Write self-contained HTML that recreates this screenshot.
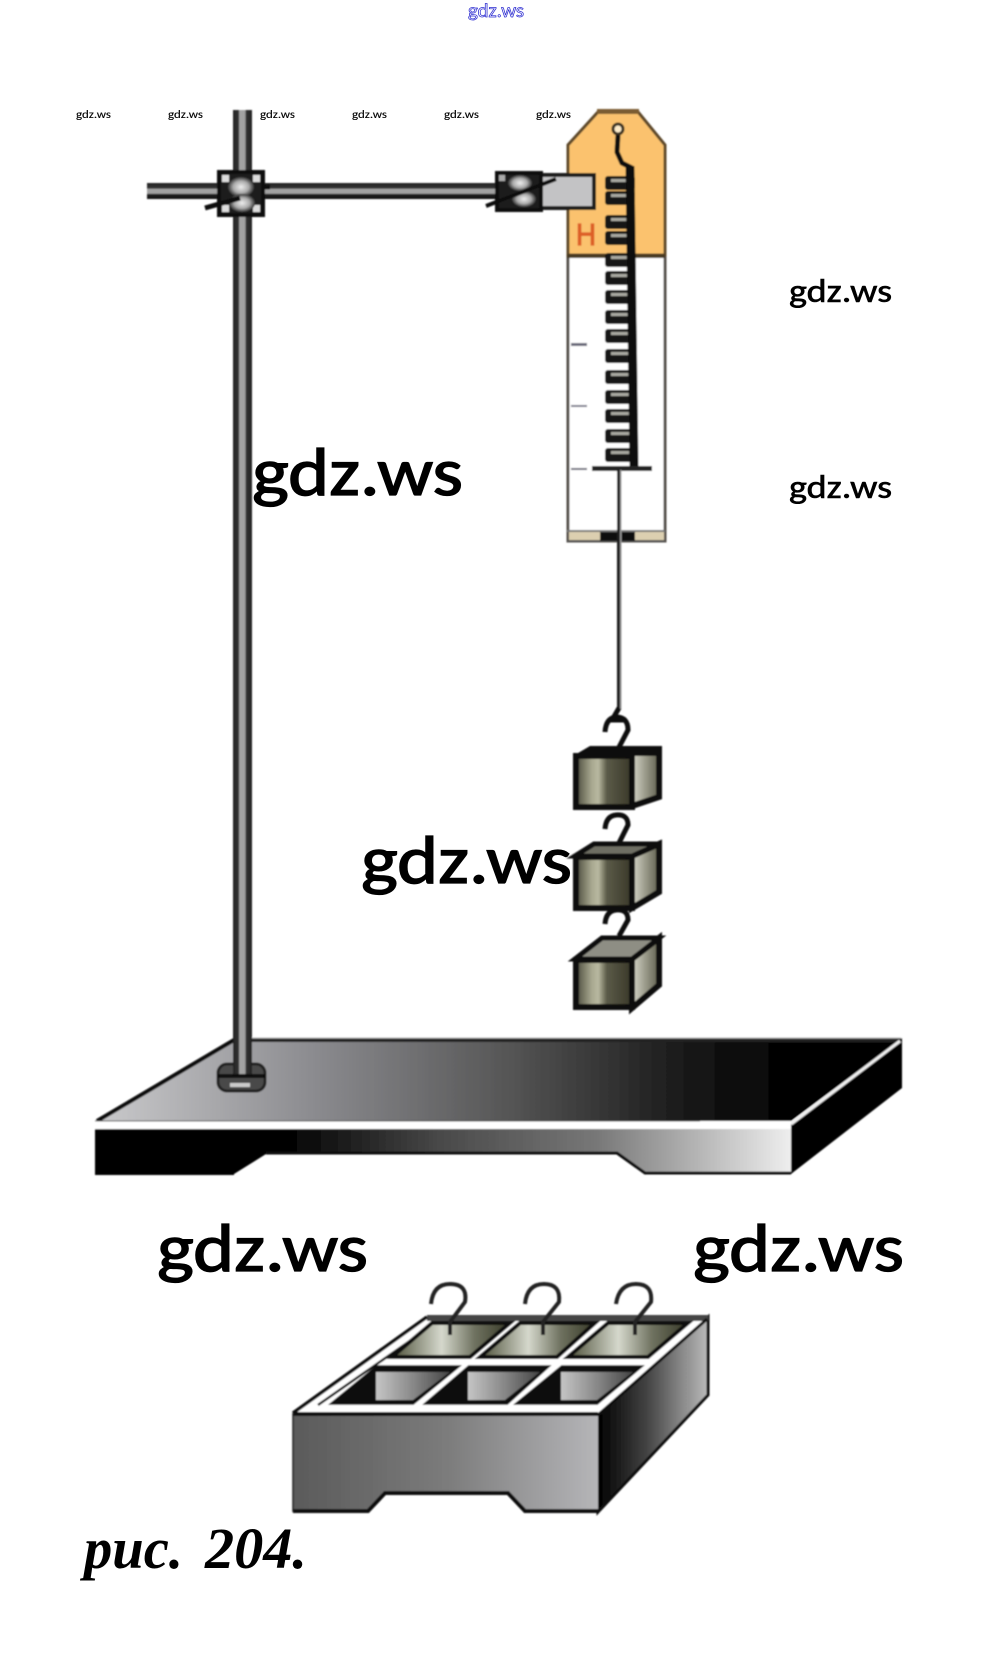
<!DOCTYPE html>
<html><head><meta charset="utf-8"><style>html,body{margin:0;padding:0;background:#fff}svg{display:block}</style></head>
<body>
<svg xmlns="http://www.w3.org/2000/svg" width="992" height="1679" viewBox="0 0 992 1679">
<defs>
<filter id="soft" filterUnits="userSpaceOnUse" x="0" y="0" width="992" height="1679"><feGaussianBlur stdDeviation="0.7"/></filter>
<linearGradient id="rodV" x1="0" x2="1" y1="0" y2="0"><stop offset="0" stop-color="#222"/><stop offset=".3" stop-color="#333"/><stop offset=".34" stop-color="#a5a5a5"/><stop offset=".64" stop-color="#a0a0a0"/><stop offset=".68" stop-color="#333"/><stop offset="1" stop-color="#222"/></linearGradient>
<linearGradient id="rodH" x1="0" x2="0" y1="0" y2="1"><stop offset="0" stop-color="#222"/><stop offset=".33" stop-color="#333"/><stop offset=".38" stop-color="#a5a5a5"/><stop offset=".66" stop-color="#a0a0a0"/><stop offset=".7" stop-color="#222"/><stop offset="1" stop-color="#111"/></linearGradient>
<linearGradient id="plateTop" gradientUnits="userSpaceOnUse" x1="110" x2="800" y1="0" y2="0"><stop offset="0" stop-color="#c6c6c8"/><stop offset=".3" stop-color="#8a8a8e"/><stop offset=".58" stop-color="#555"/><stop offset=".85" stop-color="#151515"/><stop offset="1" stop-color="#000"/></linearGradient>
<linearGradient id="plateFront" gradientUnits="userSpaceOnUse" x1="95" x2="791" y1="0" y2="0"><stop offset="0" stop-color="#000"/><stop offset=".27" stop-color="#000"/><stop offset=".5" stop-color="#4a4a4a"/><stop offset=".72" stop-color="#777"/><stop offset="1" stop-color="#eee"/></linearGradient>
<linearGradient id="trayFront" gradientUnits="userSpaceOnUse" x1="293" x2="598" y1="0" y2="0"><stop offset="0" stop-color="#5a5a5a"/><stop offset=".5" stop-color="#7b7b7b"/><stop offset="1" stop-color="#b5b5b8"/></linearGradient>
<linearGradient id="traySide" gradientUnits="userSpaceOnUse" x1="598" x2="708" y1="0" y2="0"><stop offset="0" stop-color="#000"/><stop offset=".45" stop-color="#444"/><stop offset="1" stop-color="#bbb"/></linearGradient>
<linearGradient id="metal" x1="0" x2="1" y1="0" y2="0"><stop offset="0" stop-color="#4a4a3c"/><stop offset=".28" stop-color="#a8a890"/><stop offset=".4" stop-color="#b8b8a0"/><stop offset=".55" stop-color="#5a5a48"/><stop offset="1" stop-color="#3a3828"/></linearGradient>
<linearGradient id="metal2" x1="0" x2="1" y1="0" y2="0"><stop offset="0" stop-color="#d8d8cc"/><stop offset=".45" stop-color="#a0a090"/><stop offset="1" stop-color="#5e5e4e"/></linearGradient>
<linearGradient id="metalB" x1="0" x2="1" y1="0" y2="0"><stop offset="0" stop-color="#4c4f38"/><stop offset=".42" stop-color="#d5d8cc"/><stop offset=".7" stop-color="#6f7260"/><stop offset="1" stop-color="#363826"/></linearGradient>
<linearGradient id="trayMid" x1="0" x2="1" y1="0" y2="0"><stop offset="0" stop-color="#c5c5c5"/><stop offset=".5" stop-color="#888"/><stop offset="1" stop-color="#444"/></linearGradient>
<radialGradient id="knob"><stop offset="0" stop-color="#eee"/><stop offset=".6" stop-color="#aaa"/><stop offset="1" stop-color="#333"/></radialGradient>
<g id="coil">
<rect x="-15" y="-7" width="30" height="14" rx="3" fill="#161616"/>
<rect x="-9" y="-4" width="18" height="3" fill="#a8a8a0"/>
</g>
</defs>

<g filter="url(#soft)">
<!-- spring scale -->
<path d="M598 112H638L665 145V541H568V145Z" fill="#fff" stroke="#55504a" stroke-width="3"/>
<path d="M598 112H638L665 145V255H568V145Z" fill="#fbc26e" stroke="#5f4a2c" stroke-width="3"/>
<rect x="597" y="109" width="42" height="5" fill="#7a5c30"/>
<rect x="567" y="254" width="98" height="4" fill="#4a3a20"/>
<rect x="569" y="532" width="95" height="9" fill="#dccfb0"/>
<rect x="567" y="530" width="98" height="2" fill="#777"/>
<rect x="567" y="540" width="98" height="2" fill="#555"/>
<rect x="600" y="532" width="35" height="9" fill="#111"/>
<rect x="571" y="343" width="16" height="3" fill="#667"/>
<rect x="571" y="405" width="16" height="2" fill="#778"/>
<rect x="571" y="468" width="16" height="2" fill="#667"/>
<text x="576" y="245" font-family="Liberation Sans, sans-serif" font-size="31" fill="#dd5f26" stroke="#dd5f26" stroke-width="1.2" textLength="20" lengthAdjust="spacingAndGlyphs">Н</text>

<!-- spring -->
<circle cx="618" cy="129" r="5" fill="#fdeccb" stroke="#3a3020" stroke-width="3"/>
<path d="M618 135L617 152L622 163L632 168" fill="none" stroke="#111" stroke-width="5"/>
<use href="#coil" x="620" y="183"/><use href="#coil" x="620" y="198"/><use href="#coil" x="620" y="222"/><use href="#coil" x="620" y="238"/>
<use href="#coil" x="620" y="260"/><use href="#coil" x="620" y="278"/><use href="#coil" x="620" y="297"/><use href="#coil" x="620" y="317"/>
<use href="#coil" x="620" y="336"/><use href="#coil" x="620" y="356"/><use href="#coil" x="620" y="377"/><use href="#coil" x="620" y="397"/>
<use href="#coil" x="620" y="416"/><use href="#coil" x="620" y="436"/><use href="#coil" x="620" y="455"/>
<path d="M630 166L634 466" stroke="#111" stroke-width="9" fill="none"/>
<rect x="592" y="466" width="60" height="5" fill="#222"/>
<rect x="617" y="470" width="3" height="240" fill="#1a1a1a"/>
<rect x="620" y="470" width="1.5" height="240" fill="#999"/>

<!-- stand rods -->
<rect x="233" y="110" width="19" height="920" fill="url(#rodV)"/>
<rect x="147" y="183" width="352" height="16" fill="url(#rodH)"/>

<!-- clamp 1 -->
<rect x="219" y="172" width="44" height="43" fill="#1a1a1a" stroke="#111" stroke-width="4"/>
<rect x="222" y="175" width="7" height="7" fill="#ddd"/><rect x="253" y="175" width="7" height="7" fill="#ddd"/>
<rect x="222" y="205" width="7" height="7" fill="#ddd"/><rect x="253" y="205" width="7" height="7" fill="#ddd"/>
<ellipse cx="241" cy="187" rx="13" ry="10" fill="url(#knob)"/>
<ellipse cx="242" cy="203" rx="13" ry="9" fill="url(#knob)"/>
<path d="M205 208L240 198" stroke="#111" stroke-width="5"/>
<path d="M263 187H270" stroke="#111" stroke-width="5"/>
<!-- clamp 2 -->
<rect x="538" y="175" width="56" height="33" fill="#c3c3c5" stroke="#1a1a1a" stroke-width="4"/>
<rect x="497" y="173" width="44" height="37" fill="#1a1a1a" stroke="#111" stroke-width="4"/>
<ellipse cx="520" cy="183" rx="12" ry="8" fill="url(#knob)"/>
<ellipse cx="524" cy="199" rx="12" ry="8" fill="url(#knob)"/>
<rect x="499" y="175" width="6" height="6" fill="#aaa"/>
<path d="M486 206L556 179" stroke="#111" stroke-width="4"/>

<!-- hooks and weights -->
<g fill="none" stroke="#111" stroke-width="5">
<path d="M619 708L612 720H626"/>
<path d="M617 751L628 730Q628 717 616 717Q606 718 605 732"/>
<path d="M619 843L628 825Q628 814 616 815Q606 816 605 829"/>
<path d="M619 936L628 920Q628 909 616 910Q606 911 605 924"/>
</g>

<path d="M632 751H659V797L632 806Z" fill="url(#metal2)" stroke="#0c0c0c" stroke-width="6"/>
<path d="M573 756L590 746H662V756Z" fill="#0c0c0c"/>
<rect x="576" y="756" width="56" height="51" fill="url(#metal)" stroke="#0c0c0c" stroke-width="6"/>

<path d="M632 856L659 844V892L632 908Z" fill="url(#metal2)" stroke="#0c0c0c" stroke-width="6"/>
<path d="M575 856L594 844H659L632 856Z" fill="#6e6e64" stroke="#0c0c0c" stroke-width="5"/>
<rect x="576" y="857" width="56" height="51" fill="url(#metal)" stroke="#0c0c0c" stroke-width="6"/>

<path d="M632 959L659 938V985L632 1008Z" fill="url(#metal2)" stroke="#0c0c0c" stroke-width="6"/>
<path d="M575 959L602 938H659L632 959Z" fill="#8e8e84" stroke="#0c0c0c" stroke-width="5"/>
<rect x="576" y="960" width="56" height="47" fill="url(#metal)" stroke="#0c0c0c" stroke-width="6"/>

<!-- base plate -->
<path d="M236 1039H901L791 1121H100Z" fill="url(#plateTop)"/>
<path d="M236 1040H901" stroke="#222" stroke-width="4"/>
<path d="M236 1038H901" stroke="#bbb" stroke-width="1"/>
<path d="M234 1040L97 1121" stroke="#111" stroke-width="4"/>
<path d="M902 1038V1088L791 1174V1124Z" fill="#000"/>
<path d="M900 1041L791 1124" stroke="#eee" stroke-width="3"/>
<path d="M95 1121H791V1129H95Z" fill="#fff"/>
<path d="M95 1121H700" stroke="#444" stroke-width="1"/>
<path d="M95 1129H791V1174H645L617 1154H266L234 1174H95Z" fill="url(#plateFront)"/>
<path d="M266 1153H617L645 1173H791" fill="none" stroke="#111" stroke-width="3"/>
<path d="M95 1174H234" stroke="#000" stroke-width="2"/>

<!-- rod foot -->
<rect x="218" y="1064" width="47" height="27" rx="9" fill="#4a4a4a" stroke="#222" stroke-width="3"/>
<rect x="218" y="1074" width="47" height="4" fill="#111"/>
<rect x="230" y="1083" width="20" height="4" fill="#ccc"/>
<rect x="233" y="1030" width="19" height="44" fill="url(#rodV)"/>

<!-- tray -->
<path d="M598 1415L708 1317V1395L598 1512Z" fill="url(#traySide)" stroke="#111" stroke-width="3"/>
<path d="M293 1413L427 1317H708L598 1413Z" fill="#fff"/>
<path d="M427 1318H708" stroke="#444" stroke-width="6"/>
<path d="M293 1413L427 1317" stroke="#111" stroke-width="3.5"/>
<path d="M318 1405L437 1322" stroke="#111" stroke-width="2.5"/>
<path d="M707 1319L598 1415" stroke="#111" stroke-width="3"/>

<path d="M392 1357L432 1323H510L470 1357Z" fill="url(#metalB)" stroke="#0c0c0c" stroke-width="4"/>
<path d="M480 1357L520 1323H595L557 1357Z" fill="url(#metalB)" stroke="#0c0c0c" stroke-width="4"/>
<path d="M568 1357L608 1323H688L648 1357Z" fill="url(#metalB)" stroke="#0c0c0c" stroke-width="4"/>

<path d="M333 1403L377 1367H457L413 1403Z" fill="#111" stroke="#0c0c0c" stroke-width="3.5"/>
<path d="M376 1372H450L413 1400H376Z" fill="url(#trayMid)"/>
<path d="M427 1403L469 1367H547L507 1403Z" fill="#111" stroke="#0c0c0c" stroke-width="3.5"/>
<path d="M468 1372H540L505 1400H468Z" fill="url(#trayMid)"/>
<path d="M518 1403L562 1367H640L597 1403Z" fill="#111" stroke="#0c0c0c" stroke-width="3.5"/>
<path d="M561 1372H633L597 1400H561Z" fill="url(#trayMid)"/>

<path d="M293 1415H598V1512H525L508 1493H385L368 1512H293Z" fill="url(#trayFront)"/>
<path d="M293 1414H598" stroke="#0c0c0c" stroke-width="4"/>
<path d="M293 1511H368L385 1493H508L525 1511H598" fill="none" stroke="#0c0c0c" stroke-width="4"/>
<path d="M293 1413V1512" stroke="#222" stroke-width="1.5"/>

<g fill="none" stroke="#222" stroke-width="4">
<path d="M450 1335V1322L465 1302Q468 1284 450 1284Q433 1284 431 1304"/>
<path d="M543 1335V1322L559 1302Q561 1284 544 1284Q527 1284 525 1304"/>
<path d="M635 1335V1322L651 1302Q653 1284 636 1284Q619 1284 616 1304"/>
</g>
</g>

<!-- watermarks -->
<g font-family="Carlito, Liberation Sans, sans-serif" fill="#000" stroke="#000">
<text x="76" y="118" font-size="11.5" stroke-width=".12" textLength="35" lengthAdjust="spacingAndGlyphs">gdz.ws</text>
<text x="168" y="118" font-size="11.5" stroke-width=".12" textLength="35" lengthAdjust="spacingAndGlyphs">gdz.ws</text>
<text x="260" y="118" font-size="11.5" stroke-width=".12" textLength="35" lengthAdjust="spacingAndGlyphs">gdz.ws</text>
<text x="352" y="118" font-size="11.5" stroke-width=".12" textLength="35" lengthAdjust="spacingAndGlyphs">gdz.ws</text>
<text x="444" y="118" font-size="11.5" stroke-width=".12" textLength="35" lengthAdjust="spacingAndGlyphs">gdz.ws</text>
<text x="536" y="118" font-size="11.5" stroke-width=".12" textLength="35" lengthAdjust="spacingAndGlyphs">gdz.ws</text>
<text x="789" y="302" font-size="33" stroke-width=".6" textLength="103" lengthAdjust="spacingAndGlyphs">gdz.ws</text>
<text x="789" y="498" font-size="33" stroke-width=".6" textLength="103" lengthAdjust="spacingAndGlyphs">gdz.ws</text>
<text x="252" y="495" font-size="68" stroke-width="1.3" textLength="211" lengthAdjust="spacingAndGlyphs">gdz.ws</text>
<text x="361" y="883" font-size="68" stroke-width="1.3" textLength="211" lengthAdjust="spacingAndGlyphs">gdz.ws</text>
<text x="157" y="1271" font-size="68" stroke-width="1.3" textLength="211" lengthAdjust="spacingAndGlyphs">gdz.ws</text>
<text x="693" y="1271" font-size="68" stroke-width="1.3" textLength="211" lengthAdjust="spacingAndGlyphs">gdz.ws</text>
</g>
<text x="468" y="17" font-family="Carlito, Liberation Sans, sans-serif" font-size="19" fill="#fff" stroke="#2a2ad0" stroke-width=".7" textLength="56" lengthAdjust="spacingAndGlyphs">gdz.ws</text>

<!-- caption -->
<g font-family="Liberation Serif, serif" font-weight="bold" font-style="italic" font-size="58" fill="#000">
<text x="84" y="1568" textLength="99" lengthAdjust="spacingAndGlyphs">рис.</text>
<text x="205" y="1568" textLength="102" lengthAdjust="spacingAndGlyphs">204.</text>
</g>
</svg>
</body></html>
